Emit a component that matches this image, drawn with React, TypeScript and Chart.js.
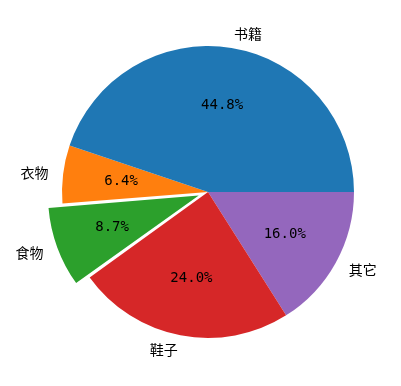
import React, { useEffect, useRef } from 'react';
import { Chart, registerables } from 'chart.js';

Chart.register(...registerables);

const categories = ['书籍', '衣物', '食物', '鞋子', '其它'];
const values = [44.8, 6.4, 8.7, 24.0, 16.0];
const colors = ['#1f77b4', '#ff7f0e', '#2ca02c', '#d62728', '#9467bd'];
const explode = [0, 0, 0.1, 0, 0];

const RADIUS = 146;
const LABEL_FONT = '14px "Noto Sans CJK SC", "Noto Sans", sans-serif';
const PCT_FONT = '14px "DejaVu Sans Mono", "Liberation Mono", monospace';

export default function App() {
  const ref = useRef<HTMLCanvasElement>(null);

  useEffect(() => {
    if (!ref.current) return;
    const total = values.reduce((a, b) => a + b, 0);
    // Chart.js draws clockwise; reverse to mimic counter-clockwise matplotlib order
    const rev = <T,>(a: T[]) => a.slice().reverse();
    const revValues = rev(values);
    const revColors = rev(colors);
    const revLabels = rev(categories);
    const revExplode = rev(explode);
    const offsets = revExplode.map((e, i) => {
      if (!e) return 0;
      const circ = (revValues[i] / total) * Math.PI * 2;
      const fix = 1 - Math.sin(Math.min(Math.PI, circ));
      return (e * RADIUS * 4) / (1 + fix);
    });

    const labelPlugin = {
      id: 'pieLabels',
      afterDatasetsDraw(chart: any) {
        const ctx = chart.ctx;
        const meta = chart.getDatasetMeta(0);
        ctx.save();
        ctx.fillStyle = '#000';
        ctx.textBaseline = 'middle';
        meta.data.forEach((arc: any, i: number) => {
          const p = arc.getProps(['x', 'y', 'startAngle', 'endAngle', 'outerRadius'], true);
          const mid = (p.startAngle + p.endAngle) / 2;
          const ex = revExplode[i] * p.outerRadius;
          const cx = p.x + Math.cos(mid) * ex;
          const cy = p.y + Math.sin(mid) * ex;
          const pct = ((revValues[i] / total) * 100).toFixed(1) + '%';
          ctx.font = PCT_FONT;
          ctx.textAlign = 'center';
          ctx.fillText(pct, cx + Math.cos(mid) * 0.6 * p.outerRadius, cy + Math.sin(mid) * 0.6 * p.outerRadius);
          const lx = cx + Math.cos(mid) * 1.1 * p.outerRadius;
          const ly = cy + Math.sin(mid) * 1.1 * p.outerRadius;
          ctx.font = LABEL_FONT;
          ctx.textAlign = Math.cos(mid) > 0 ? 'left' : 'right';
          ctx.fillText(revLabels[i], lx, ly);
        });
        ctx.restore();
      },
    };

    const chart = new Chart(ref.current, {
      type: 'pie',
      data: {
        labels: revLabels,
        datasets: [
          {
            data: revValues,
            backgroundColor: revColors,
            borderWidth: 0,
            offset: offsets,
          },
        ],
      },
      options: {
        responsive: false,
        animation: false,
        events: [],
        rotation: 90,
        radius: RADIUS,
        layout: { padding: { left: 15, right: 0, top: 0, bottom: 2 } },
        plugins: {
          legend: { display: false },
          tooltip: { enabled: false },
        },
      } as any,
      plugins: [labelPlugin],
    });
    return () => chart.destroy();
  }, []);

  return (
    <div style={{ position: 'absolute', left: 0, top: 0, width: 401, height: 386, background: '#fff' }}>
      <canvas ref={ref} width={401} height={386} style={{ width: 401, height: 386 }} />
    </div>
  );
}
